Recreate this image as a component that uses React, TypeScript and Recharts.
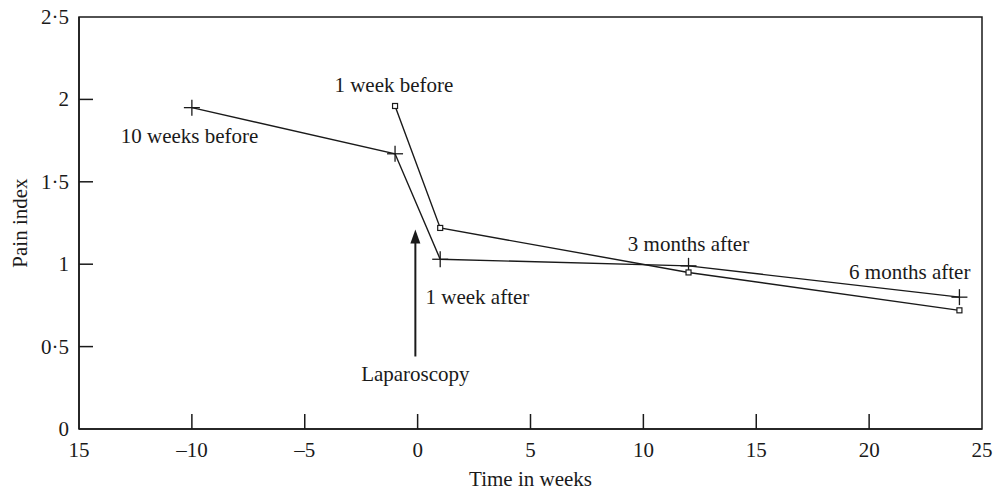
import React from 'react';
import {
    LineChart,
    Line,
    XAxis,
    YAxis,
    ReferenceArea,
    ReferenceDot,
    ReferenceLine
} from 'recharts';

// weeks relative to laparoscopy
const crossWeeks = [-10, -1, 1, 12, 24];
const crossPain = [1.95, 1.67, 1.03, 0.99, 0.8];
const squareWeeks = [-1, 1, 12, 24];
const squarePain = [1.96, 1.22, 0.95, 0.72];

const xTicks = [-15, -10, -5, 0, 5, 10, 15, 20, 25];
const xTickLabels = ['15', '\u201310', '\u20135', '0', '5', '10', '15', '20', '25'];
const yTicks = [0, 0.5, 1, 1.5, 2, 2.5];
const yTickLabels = ['0', '0\u00b75', '1', '1\u00b75', '2', '2\u00b75'];

const noteTexts = ['10 weeks before', '1 week before', '1 week after', '3 months after', '6 months after', 'Laparoscopy'];
const noteX = [-10.1, -1.05, 2.65, 12, 21.8, -0.1];
const noteY = [1.78, 2.09, 0.8, 1.125, 0.95, 0.335];

const arrowX = -0.1;
const arrowFrom = 0.44;
const arrowTo = 1.21;

const crossData = crossWeeks.map((x, i) => ({ x, y: crossPain[i] }));
const squareData = squareWeeks.map((x, i) => ({ x, y: squarePain[i] }));

const FONT = '"Liberation Serif", "Times New Roman", serif';
const FS = 21;
const INK = '#1a1a1a';
const TICK_MARGIN = 14;

const CrossDot = (props: any) => {
    const { cx, cy } = props;
    if (cx == null || cy == null) return null;
    return (
        <g>
            <line x1={cx - 8} y1={cy} x2={cx + 8} y2={cy} stroke={INK} strokeWidth={1.3} />
            <line x1={cx} y1={cy - 8} x2={cx} y2={cy + 8} stroke={INK} strokeWidth={1.3} />
        </g>
    );
};

const SquareDot = (props: any) => {
    const { cx, cy } = props;
    if (cx == null || cy == null) return null;
    return <rect x={cx - 2.5} y={cy - 2.5} width={5} height={5} fill="#fff" stroke={INK} strokeWidth={1.2} />;
};

const XTick = (props: any) => {
    const { x, y, payload, index } = props;
    const axisY = y - TICK_MARGIN;
    const inner = payload.value !== xTicks[0] && payload.value !== xTicks[xTicks.length - 1];
    return (
        <g>
            {inner && <line x1={x} y1={axisY} x2={x} y2={axisY - 15} stroke={INK} strokeWidth={1.5} />}
            <text x={x} y={y} dy={14} textAnchor="middle" fontFamily={FONT} fontSize={FS} fill={INK}>
                {xTickLabels[index]}
            </text>
        </g>
    );
};

const YTick = (props: any) => {
    const { x, y, payload, index } = props;
    const axisX = x + 10;
    const inner = payload.value !== yTicks[0] && payload.value !== yTicks[yTicks.length - 1];
    return (
        <g>
            {inner && <line x1={axisX} y1={y} x2={axisX + 14} y2={y} stroke={INK} strokeWidth={1.5} />}
            <text x={x} y={y} dy={7} textAnchor="end" fontFamily={FONT} fontSize={FS} fill={INK}>
                {yTickLabels[index]}
            </text>
        </g>
    );
};

const Arrow = (props: any) => {
    const { x1, y1, x2, y2 } = props;
    if (x1 == null) return null;
    return (
        <g>
            <line x1={x1} y1={y1} x2={x2} y2={y2 + 12} stroke={INK} strokeWidth={2} />
            <polygon points={`${x2 - 5},${y2 + 14} ${x2 + 5},${y2 + 14} ${x2},${y2}`} fill={INK} />
        </g>
    );
};

const noteLabel = (text: string) => (props: any) => {
    const { viewBox } = props;
    const cx = viewBox.x + (viewBox.width || 0) / 2;
    const cy = viewBox.y + (viewBox.height || 0) / 2;
    return (
        <text x={cx} y={cy} dy={7} textAnchor="middle" fontFamily={FONT} fontSize={FS} fill={INK}>
            {text}
        </text>
    );
};

const XTitle = (props: any) => {
    const { viewBox } = props;
    const cx = viewBox.x + viewBox.width / 2;
    return (
        <text x={cx} y={viewBox.y + 50} dy={7} textAnchor="middle" fontFamily={FONT} fontSize={FS} fill={INK}>
            Time in weeks
        </text>
    );
};

const YTitle = (props: any) => {
    const { viewBox } = props;
    const cy = viewBox.y + viewBox.height / 2;
    const tx = 20;
    return (
        <text
            x={tx}
            y={cy}
            dy={7}
            transform={`rotate(-90 ${tx} ${cy})`}
            textAnchor="middle"
            fontFamily={FONT}
            fontSize={FS}
            fill={INK}
        >
            Pain index
        </text>
    );
};

export default function App() {
    return (
        <div style={{ width: 995, height: 492, background: '#fff' }}>
            <style>{'body{margin:0;}'}</style>
            <LineChart width={995} height={492} margin={{ top: 17, right: 13, bottom: 0, left: 0 }}>
                <XAxis
                    type="number"
                    dataKey="x"
                    domain={[-15, 25]}
                    ticks={xTicks}
                    allowDataOverflow
                    height={63}
                    tickSize={0}
                    tickMargin={TICK_MARGIN}
                    axisLine={{ stroke: INK, strokeWidth: 1.5 }}
                    tick={<XTick />}
                    label={<XTitle />}
                />
                <YAxis
                    type="number"
                    dataKey="y"
                    domain={[0, 2.5]}
                    ticks={yTicks}
                    allowDataOverflow
                    width={79}
                    tickSize={0}
                    tickMargin={10}
                    axisLine={{ stroke: INK, strokeWidth: 1.5 }}
                    tick={<YTick />}
                    label={<YTitle />}
                />
                <ReferenceArea x1={-15} x2={25} y1={0} y2={2.5} fill="none" stroke={INK} strokeWidth={1.5} strokeOpacity={1} />
                <ReferenceLine
                    segment={[{ x: arrowX, y: arrowFrom }, { x: arrowX, y: arrowTo }]}
                    shape={<Arrow />}
                />
                <Line
                    data={crossData}
                    dataKey="y"
                    type="linear"
                    stroke={INK}
                    strokeWidth={1.4}
                    dot={<CrossDot />}
                    activeDot={false}
                    isAnimationActive={false}
                />
                <Line
                    data={squareData}
                    dataKey="y"
                    type="linear"
                    stroke={INK}
                    strokeWidth={1.4}
                    dot={<SquareDot />}
                    activeDot={false}
                    isAnimationActive={false}
                />
                {noteTexts.map((t, i) => (
                    <ReferenceDot key={t} x={noteX[i]} y={noteY[i]} r={0} fill="none" stroke="none" label={noteLabel(t)} />
                ))}
            </LineChart>
        </div>
    );
}
